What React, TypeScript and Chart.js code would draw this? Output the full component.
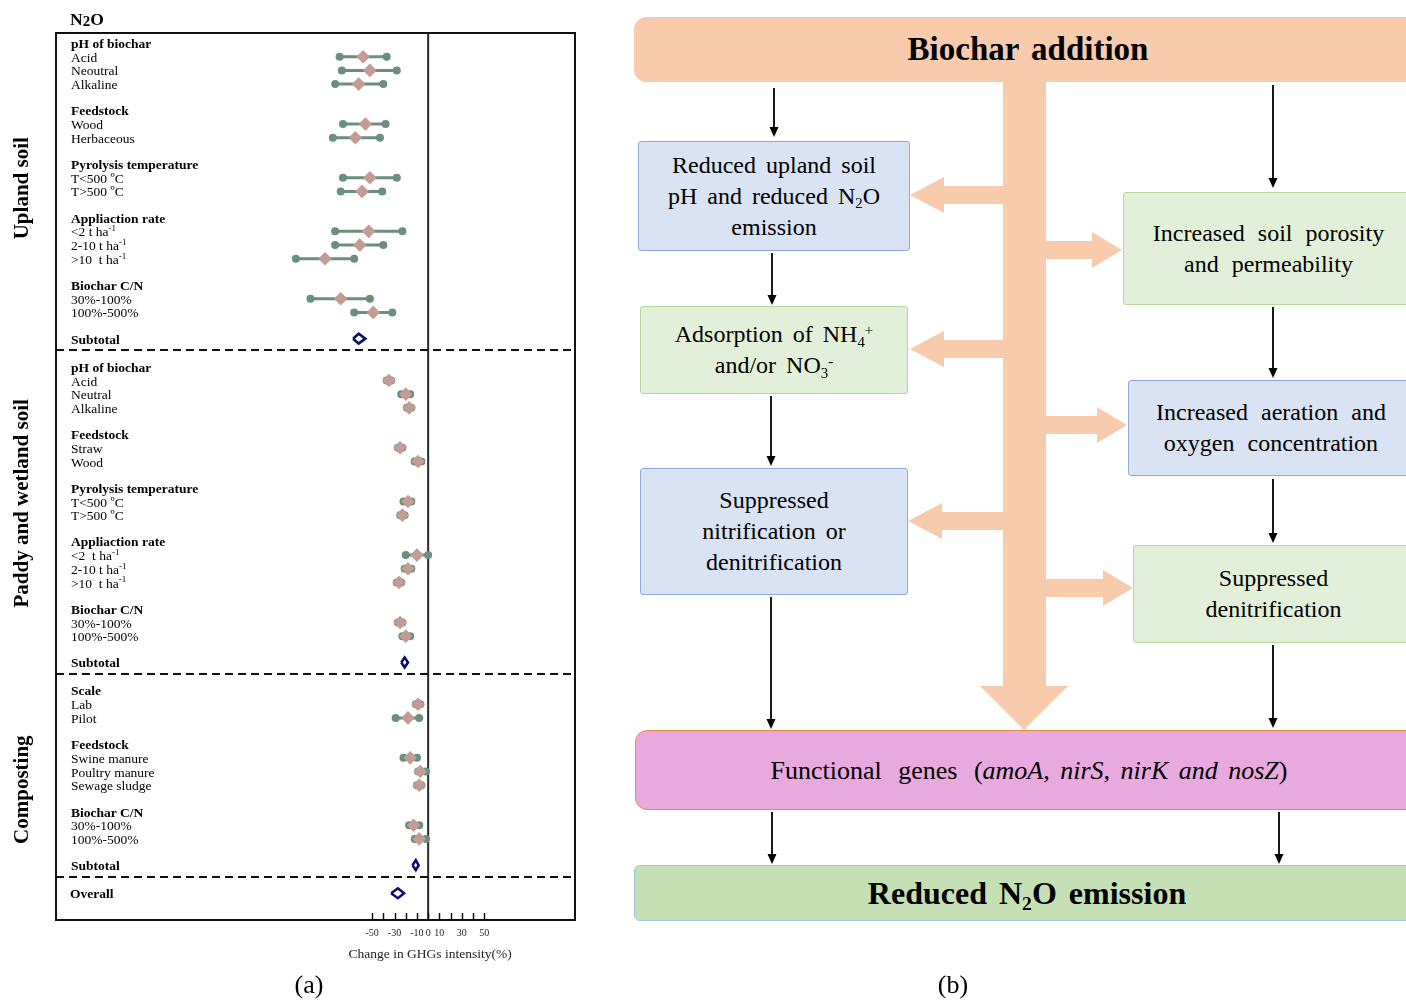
import React, { useEffect, useRef } from "react";
import { Chart, registerables } from "chart.js";

Chart.register(...registerables);

const FONT = '"Liberation Serif", "Times New Roman", Times, serif';

// ---------------- Panel (a) data ----------------
const sectionNames = ["Upland soil", "Paddy and wetland soil", "Composting"];

const uplandGroups = ["pH of biochar", "Feedstock", "Pyrolysis temperature", "Appliaction rate", "Biochar C/N"];
const uplandItems = [
  ["Acid", "Neoutral", "Alkaline"],
  ["Wood", "Herbaceous"],
  ["T<500 ºC", "T>500 ºC"],
  ["<2 t ha^-1", "2-10 t ha^-1", ">10  t ha^-1"],
  ["30%-100%", "100%-500%"],
];
const uplandMean = [-58, -52, -62, -56, -65, -52, -59, -53, -61, -92, -78, -49];
const uplandLow = [-79, -77, -83, -76, -85, -76, -78, -83, -83, -118, -105, -66];
const uplandHigh = [-37, -28, -40, -38, -43, -28, -41, -23, -40, -66, -52, -32];

const paddyGroups = ["pH of biochar", "Feedstock", "Pyrolysis temperature", "Appliaction rate", "Biochar C/N"];
const paddyItems = [
  ["Acid", "Neutral", "Alkaline"],
  ["Straw", "Wood"],
  ["T<500 ºC", "T>500 ºC"],
  ["<2  t ha^-1", "2-10 t ha^-1", ">10  t ha^-1"],
  ["30%-100%", "100%-500%"],
];
const paddyMean = [-35, -20, -17, -25, -9, -18, -23, -10, -18, -26, -25, -20];
const paddyLow = [-37, -24, -19, -27, -12, -22, -25, -20, -21, -28, -27, -23];
const paddyHigh = [-33, -16, -15, -23, -6, -15, -21, 0, -15, -24, -23, -16];

const compostGroups = ["Scale", "Feedstock", "Biochar C/N"];
const compostItems = [
  ["Lab", "Pilot"],
  ["Swine manure", "Poultry manure", "Sewage sludge"],
  ["30%-100%", "100%-500%"],
];
const compostMean = [-9, -18, -16, -7, -8, -13, -8];
const compostLow = [-11, -29, -22, -9, -10, -17, -12];
const compostHigh = [-7, -8, -10, -2, -6, -8, -2];

const subtotalMean = [-62, -21, -11];
const subtotalLow = [-67, -24, -14];
const subtotalHigh = [-56, -18, -8.5];
const overallMean = -27;
const overallLow = -33;
const overallHigh = -21.5;

const tickValues = [-50, -40, -30, -20, -10, 0, 10, 20, 30, 40, 50];
const labeledTicks = [-50, -30, -10, 0, 10, 30, 50];

// ---------------- layout (row spacing in y-scale units) ----------------
const STEP_ITEM = 1;
const STEP_GROUP = 1.916;
const STEP_SECTION = 2.05;
const DASH_OFFSET = 0.85;
const SECTION_LABEL_POS = [10.6, 33.6, 54.5];
const DIAMOND_HALF_H = 0.36;

type Row = { label: string; kind: string; pos: number; mean?: number; lo?: number; hi?: number };

const sectionDefs = [
  { groups: uplandGroups, items: uplandItems, mean: uplandMean, lo: uplandLow, hi: uplandHigh },
  { groups: paddyGroups, items: paddyItems, mean: paddyMean, lo: paddyLow, hi: paddyHigh },
  { groups: compostGroups, items: compostItems, mean: compostMean, lo: compostLow, hi: compostHigh },
];

const rows: Row[] = [];
const dashPositions: number[] = [];
(() => {
  let pos = 0;
  sectionDefs.forEach((sec, si) => {
    if (si > 0) pos += STEP_SECTION;
    let k = 0;
    sec.groups.forEach((g, gi) => {
      if (gi > 0) pos += STEP_GROUP;
      rows.push({ label: g, kind: "header", pos });
      sec.items[gi].forEach((it) => {
        pos += STEP_ITEM;
        rows.push({ label: it, kind: "item", pos, mean: sec.mean[k], lo: sec.lo[k], hi: sec.hi[k] });
        k++;
      });
    });
    pos += STEP_GROUP;
    rows.push({ label: "Subtotal", kind: "subtotal", pos, mean: subtotalMean[si], lo: subtotalLow[si], hi: subtotalHigh[si] });
    dashPositions.push(pos + DASH_OFFSET);
  });
  pos += STEP_SECTION;
  rows.push({ label: "Overall", kind: "overall", pos, mean: overallMean, lo: overallLow, hi: overallHigh });
})();

const Y_MIN = -0.73;
const Y_MAX = 64.01;

const ciData: any[] = [];
const meanData: any[] = [];
const summaryData: any[] = [];
rows.forEach((r) => {
  if (r.kind === "item") {
    ciData.push({ x: r.lo, y: r.pos }, { x: r.hi, y: r.pos }, { x: null, y: null });
    meanData.push({ x: r.mean, y: r.pos });
  } else if (r.kind === "subtotal" || r.kind === "overall") {
    summaryData.push(
      { x: r.lo, y: r.pos },
      { x: r.mean, y: r.pos - DIAMOND_HALF_H },
      { x: r.hi, y: r.pos },
      { x: r.mean, y: r.pos + DIAMOND_HALF_H },
      { x: r.lo, y: r.pos },
      { x: null, y: null }
    );
  }
});

const forestPlugin = {
  id: "forestDecor",
  beforeDatasetsDraw(chart: any) {
    const { ctx, chartArea: a, scales } = chart;
    const x = scales.x, y = scales.y;
    ctx.save();
    const x0 = x.getPixelForValue(0);
    ctx.strokeStyle = "#2a2a2a";
    ctx.lineWidth = 2;
    ctx.beginPath();
    ctx.moveTo(x0, a.top);
    ctx.lineTo(x0, a.bottom);
    ctx.stroke();
    ctx.setLineDash([8, 5]);
    ctx.lineWidth = 1.8;
    ctx.strokeStyle = "#111";
    dashPositions.forEach((p) => {
      const py = Math.round(y.getPixelForValue(p));
      ctx.beginPath();
      ctx.moveTo(a.left, py);
      ctx.lineTo(a.right, py);
      ctx.stroke();
    });
    ctx.restore();
  },
  afterDraw(chart: any) {
    const { ctx, chartArea: a, scales } = chart;
    const x = scales.x, y = scales.y;
    ctx.save();
    // frame
    ctx.strokeStyle = "#111";
    ctx.lineWidth = 2;
    ctx.strokeRect(a.left, a.top, a.right - a.left, a.bottom - a.top);
    // tick marks (inside)
    ctx.lineWidth = 1.5;
    tickValues.forEach((v) => {
      const px = Math.round(x.getPixelForValue(v)) + 0.5;
      ctx.beginPath();
      ctx.moveTo(px, a.bottom);
      ctx.lineTo(px, a.bottom - 7);
      ctx.stroke();
    });
    // axis title
    const x0 = x.getPixelForValue(0);
    ctx.fillStyle = "#222";
    ctx.font = `13.5px ${FONT}`;
    ctx.textAlign = "center";
    ctx.textBaseline = "middle";
    ctx.fillText("Change in GHGs intensity(%)", x0 + 2, 954);
    // row labels
    ctx.textAlign = "left";
    ctx.fillStyle = "#000";
    rows.forEach((r) => {
      const py = y.getPixelForValue(r.pos) + 1.5;
      const bold = r.kind !== "item";
      const size = 13.5;
      ctx.font = `${bold ? "bold " : ""}${size}px ${FONT}`;
      const lx = a.left + (r.kind === "overall" ? 14 : 15);
      const parts = r.label.split("^");
      ctx.fillText(parts[0], lx, py);
      if (parts[1]) {
        const w = ctx.measureText(parts[0]).width;
        ctx.font = `9px ${FONT}`;
        ctx.fillText(parts[1], lx + w, py - 4);
      }
    });
    // section labels (rotated)
    ctx.font = `bold 21px ${FONT}`;
    ctx.textAlign = "center";
    sectionNames.forEach((name, i) => {
      const py = y.getPixelForValue(SECTION_LABEL_POS[i]);
      ctx.save();
      ctx.translate(23, py);
      ctx.rotate(-Math.PI / 2);
      ctx.fillText(name, 0, 0);
      ctx.restore();
    });
    // N2O title
    ctx.textAlign = "left";
    ctx.textBaseline = "alphabetic";
    let tx = a.left + 14;
    const ty = 25;
    ctx.font = `bold 17.5px ${FONT}`;
    ctx.fillText("N", tx, ty);
    tx += ctx.measureText("N").width;
    ctx.font = `bold 15px ${FONT}`;
    ctx.fillText("2", tx, ty + 1);
    tx += ctx.measureText("2").width;
    ctx.font = `bold 17.5px ${FONT}`;
    ctx.fillText("O", tx, ty);
    ctx.restore();
  },
};

function ForestChart() {
  const ref = useRef<HTMLCanvasElement | null>(null);
  useEffect(() => {
    const green = "#6b8f7d";
    const chart = new Chart(ref.current as HTMLCanvasElement, {
      type: "scatter",
      data: {
        datasets: [
          {
            label: "mean",
            data: meanData,
            pointStyle: "rectRot",
            pointRadius: 6.8,
            backgroundColor: "#c29c95",
            borderWidth: 0,
            pointBorderWidth: 0,
            order: 0,
          },
          {
            label: "summary",
            data: summaryData,
            showLine: true,
            borderColor: "#0c0c72",
            borderWidth: 2.6,
            pointRadius: 0,
            borderJoinStyle: "miter",
            spanGaps: false,
            order: 1,
          },
          {
            label: "ci",
            data: ciData,
            showLine: true,
            borderColor: green,
            borderWidth: 3,
            pointRadius: 4,
            pointBackgroundColor: green,
            pointBorderWidth: 0,
            spanGaps: false,
            order: 2,
          },
        ] as any,
      },
      options: {
        responsive: false,
        animation: false,
        devicePixelRatio: 1,
        events: [],
        layout: { padding: { left: 56, top: 33, right: 25, bottom: 0 } },
        plugins: { legend: { display: false }, tooltip: { enabled: false } },
        scales: {
          x: {
            type: "linear",
            min: -332,
            max: 131,
            grid: { display: false, drawTicks: false },
            border: { display: false },
            afterBuildTicks: (axis: any) => {
              axis.ticks = tickValues.map((v) => ({ value: v }));
            },
            afterFit: (scale: any) => {
              scale.height = 83;
            },
            ticks: {
              autoSkip: false,
              maxRotation: 0,
              minRotation: 0,
              padding: 7,
              color: "#222",
              font: { family: FONT, size: 10 },
              callback: (v: any) => (labeledTicks.includes(Number(v)) ? String(v) : ""),
            },
          },
          y: {
            type: "linear",
            display: false,
            reverse: true,
            min: Y_MIN,
            max: Y_MAX,
          },
        },
      } as any,
      plugins: [forestPlugin],
    });
    return () => chart.destroy();
  }, []);
  return <canvas ref={ref} width={600} height={1003} style={{ display: "block", width: 600, height: 1003 }} />;
}

// ---------------- Panel (b) ----------------
const BLUE_BG = "#dae3f3";
const BLUE_BD = "#8eaadb";
const GREEN_BG = "#e2f0d9";
const GREEN_BD = "#b4d79c";
const PEACH = "#f8cbad";

function Box(props: any) {
  const { l, t, r, b, bg, bd, radius = 3, children, style } = props;
  return (
    <div
      style={{
        position: "absolute",
        left: l,
        top: t,
        width: r - l,
        height: b - t,
        background: bg,
        border: `1.3px solid ${bd}`,
        borderRadius: radius,
        boxSizing: "border-box",
        display: "flex",
        flexDirection: "column",
        alignItems: "center",
        justifyContent: "center",
        textAlign: "center",
        fontFamily: FONT,
        fontSize: 24,
        lineHeight: "31px",
        color: "#000",
        wordSpacing: 4,
        ...style,
      }}
    >
      {children}
    </div>
  );
}

const Sub = ({ c }: any) => (
  <span style={{ fontSize: "0.62em", position: "relative", top: "0.32em", lineHeight: 0 }}>{c}</span>
);
const Sup = ({ c }: any) => (
  <span style={{ fontSize: "0.62em", position: "relative", top: "-0.45em", lineHeight: 0 }}>{c}</span>
);

const thinArrows = [
  [774, 88, 137],
  [1273, 85, 188],
  [772, 253, 305],
  [1273, 307, 378],
  [771, 396, 466],
  [1273, 479, 543],
  [771, 597, 729],
  [1273, 645, 728],
  [772, 812, 864],
  [1279, 812, 864],
];
const leftArrows = [
  [195, 910],
  [349, 910],
  [521, 908],
];
const rightArrows = [
  [250, 1122],
  [425, 1127],
  [588, 1133],
];

function FlowChart() {
  const shaftL = 1003, shaftR = 1046;
  return (
    <>
      <svg width={1406} height={1003} style={{ position: "absolute", left: 0, top: 0 }}>
        <polygon
          points={`${shaftL},70 ${shaftR},70 ${shaftR},686 1068,686 1024,730 980,686 ${shaftL},686`}
          fill={PEACH}
        />
        {leftArrows.map(([cy, tip], i) => (
          <polygon
            key={"l" + i}
            points={`${shaftL + 1},${cy - 9} ${tip + 34},${cy - 9} ${tip + 34},${cy - 18} ${tip},${cy} ${tip + 34},${cy + 18} ${tip + 34},${cy + 9} ${shaftL + 1},${cy + 9}`}
            fill={PEACH}
          />
        ))}
        {rightArrows.map(([cy, tip], i) => (
          <polygon
            key={"r" + i}
            points={`${shaftR - 1},${cy - 9} ${tip - 30},${cy - 9} ${tip - 30},${cy - 18} ${tip},${cy} ${tip - 30},${cy + 18} ${tip - 30},${cy + 9} ${shaftR - 1},${cy + 9}`}
            fill={PEACH}
          />
        ))}
      </svg>

      <Box l={634} t={17} r={1422} b={82} bg={PEACH} bd={PEACH} radius={12} style={{ fontWeight: "bold", fontSize: 33 }}>
        Biochar addition
      </Box>

      <Box l={638} t={141} r={910} b={251} bg={BLUE_BG} bd={BLUE_BD}>
        <div>Reduced upland soil</div>
        <div>
          pH and reduced N<Sub c="2" />O
        </div>
        <div>emission</div>
      </Box>

      <Box l={640} t={306} r={908} b={394} bg={GREEN_BG} bd={GREEN_BD}>
        <div>
          Adsorption of NH<Sub c="4" />
          <Sup c="+" />
        </div>
        <div>
          and/or NO<Sub c="3" />
          <Sup c="-" />
        </div>
      </Box>

      <Box l={640} t={468} r={908} b={595} bg={BLUE_BG} bd={BLUE_BD}>
        <div>Suppressed</div>
        <div>nitrification or</div>
        <div>denitrification</div>
      </Box>

      <Box l={1123} t={192} r={1414} b={305} bg={GREEN_BG} bd={GREEN_BD} style={{ wordSpacing: 7 }}>
        <div>Increased soil porosity</div>
        <div>and permeability</div>
      </Box>

      <Box l={1128} t={380} r={1414} b={476} bg={BLUE_BG} bd={BLUE_BD} style={{ wordSpacing: 7 }}>
        <div>Increased aeration and</div>
        <div>oxygen concentration</div>
      </Box>

      <Box l={1133} t={545} r={1414} b={643} bg={GREEN_BG} bd={GREEN_BD}>
        <div>Suppressed</div>
        <div>denitrification</div>
      </Box>

      <Box l={635} t={730} r={1423} b={810} bg="#e8a9de" bd="#ee8a4a" radius={12} style={{ fontSize: 26, wordSpacing: 10 }}>
        <div>
          Functional genes (<i style={{ wordSpacing: 4 }}>amoA, nirS, nirK and nosZ</i>)
        </div>
      </Box>

      <Box l={634} t={865} r={1420} b={921} bg="#c5e0b4" bd="#9dc3e6" radius={6} style={{ fontWeight: "bold", fontSize: 32 }}>
        <div>
          Reduced N<Sub c="2" />O emission
        </div>
      </Box>

      <svg width={1406} height={1003} style={{ position: "absolute", left: 0, top: 0 }}>
        {thinArrows.map(([x, y1, y2], i) => (
          <g key={i}>
            <line x1={x} y1={y1} x2={x} y2={y2 - 8} stroke="#000" strokeWidth={1.8} />
            <polygon points={`${x - 4.5},${y2 - 10} ${x + 4.5},${y2 - 10} ${x},${y2}`} fill="#000" />
          </g>
        ))}
      </svg>
    </>
  );
}

export default function App() {
  useEffect(() => {
    document.body.style.overflow = "hidden";
  }, []);
  return (
    <div
      style={{
        position: "absolute",
        left: 0,
        top: 0,
        width: 1406,
        height: 1003,
        overflow: "hidden",
        background: "#fff",
      }}
    >
      <div style={{ position: "absolute", left: 0, top: 0, width: 600, height: 1003 }}>
        <ForestChart />
      </div>
      <FlowChart />
      <div
        style={{
          position: "absolute",
          left: 259,
          top: 970,
          width: 100,
          textAlign: "center",
          fontFamily: FONT,
          fontSize: 26,
          lineHeight: "30px",
        }}
      >
        (a)
      </div>
      <div
        style={{
          position: "absolute",
          left: 903,
          top: 970,
          width: 100,
          textAlign: "center",
          fontFamily: FONT,
          fontSize: 26,
          lineHeight: "30px",
        }}
      >
        (b)
      </div>
    </div>
  );
}
